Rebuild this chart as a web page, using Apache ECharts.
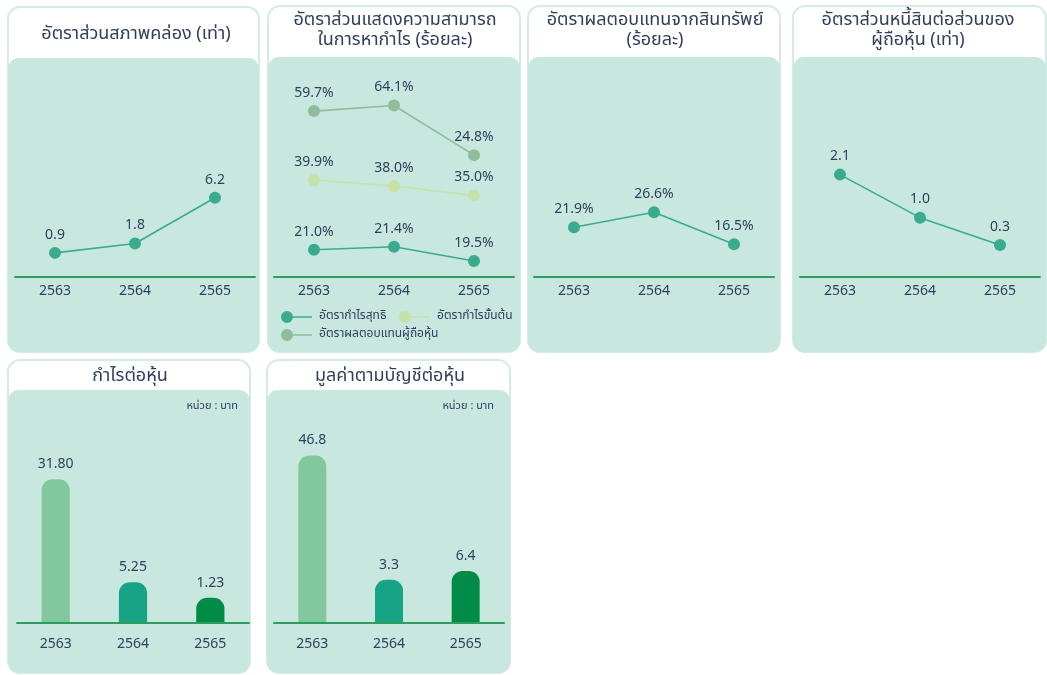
<!DOCTYPE html>
<html>
<head>
<meta charset="utf-8">
<title>อัตราส่วนทางการเงิน</title>
<script src="https://cdn.jsdelivr.net/npm/echarts@6/dist/echarts.min.js"></script>
<style>
html, body { margin: 0; padding: 0; background: #fff; }
#main { width: 1047px; height: 675px; }
</style>
</head>
<body>
<div id="main"></div>
<script>
var years = ['2563', '2564', '2565'];
// อัตราส่วนสภาพคล่อง (เท่า)
var currentRatio = [0.9, 1.8, 6.2];
// อัตราส่วนแสดงความสามารถในการหากำไร (ร้อยละ)
var netProfitMargin = [21.0, 21.4, 19.5];
var grossProfitMargin = [39.9, 38.0, 35.0];
var returnOnEquity = [59.7, 64.1, 24.8];
// อัตราผลตอบแทนจากสินทรัพย์ (ร้อยละ)
var returnOnAssets = [21.9, 26.6, 16.5];
// อัตราส่วนหนี้สินต่อส่วนของผู้ถือหุ้น (เท่า)
var debtToEquity = [2.1, 1.0, 0.3];
// กำไรต่อหุ้น (บาท)
var eps = [31.80, 5.25, 1.23];
// มูลค่าตามบัญชีต่อหุ้น (บาท)
var bookValue = [46.8, 3.3, 6.4];

var FONT = "'Noto Sans Thai', 'Noto Sans', 'DejaVu Sans', sans-serif";
var TEXT = '#2f3e5e';
var MINT = '#c8e7df';
var BORDER = '#d3ece5';
var AXIS = '#2e9c5e';
var TEAL = '#3aab8f';
var barColors = ['#81c99c', '#17a386', '#008c46'];
var legendIcon = 'path://M6,0A6,6,0,1,1,6,12A6,6,0,1,1,6,0Z M11,5.3H31V6.7H11Z';

var myChart = echarts.init(document.getElementById('main'));

// การ์ดพื้นหลัง
function card(x, y, w, h, mintTop) {
	return [{
		type: 'rect', z: -10,
		shape: { x: x, y: y, width: w, height: h, r: 12 },
		style: { fill: '#fff', stroke: BORDER, lineWidth: 2 }
	}, {
		type: 'rect', z: -9,
		shape: { x: x, y: mintTop, width: w, height: y + h - mintTop, r: 11 },
		style: { fill: MINT }
	}];
}
var cards = [].concat(
	card(8, 7, 251, 345, 58),
	card(268, 6, 252, 346, 57),
	card(528, 6, 252, 346, 57),
	card(793, 6, 253, 346, 57),
	card(8, 360, 242, 313, 390),
	card(267, 360, 243, 313, 390)
);

function titleItem(text, cx, top) {
	return {
		text: text, left: cx, top: top, textAlign: 'center', padding: 0,
		textStyle: { color: TEXT, fontSize: 18, fontWeight: 'normal', fontFamily: FONT, lineHeight: 20 }
	};
}
function unitItem(right) {
	return {
		text: 'หน่วย : บาท', right: right, top: 401, padding: 0,
		textStyle: { color: TEXT, fontSize: 11, fontWeight: 'normal', fontFamily: FONT }
	};
}

function xAxisItem(gridIndex, margin) {
	return {
		type: 'category', gridIndex: gridIndex, data: years, z: 3,
		axisLine: { onZero: false, lineStyle: { color: AXIS, width: 2 } },
		axisTick: { show: false },
		axisLabel: { color: TEXT, fontSize: 14, fontFamily: FONT, margin: margin },
		splitLine: { show: false }
	};
}
function yAxisItem(gridIndex, min, max) {
	return { type: 'value', gridIndex: gridIndex, min: min, max: max, show: false };
}

function lineSeries(name, data, xIdx, yIdx, color, digits, suffix) {
	return {
		name: name, type: 'line', xAxisIndex: xIdx, yAxisIndex: yIdx, data: data,
		symbol: 'circle', symbolSize: 12, z: 5,
		lineStyle: { color: color, width: 1.6 },
		itemStyle: { color: color },
		label: {
			show: true, position: 'top', distance: 4, color: TEXT, fontSize: 14, fontFamily: FONT,
			formatter: function (p) { return p.value.toFixed(digits) + suffix; }
		},
		emphasis: { disabled: true }
	};
}

// แท่งมุมมน เริ่มจากเส้นฐานของกราฟ
function barSeries(name, values, idx, digits) {
	return {
		name: name, type: 'custom', xAxisIndex: idx, yAxisIndex: idx + 2, z: 2,
		data: years.map(function (y, i) { return [i, values[i]]; }),
		renderItem: function (params, api) {
			var top = api.coord([api.value(0), api.value(1)]);
			var bottom = params.coordSys.y + params.coordSys.height;
			var w = api.size([1, 0])[0] * 0.365;
			return {
				type: 'rect',
				shape: { x: top[0] - w / 2, y: top[1], width: w, height: bottom - top[1], r: [11, 11, 0, 0] },
				style: { fill: barColors[params.dataIndex] },
				textContent: {
					style: { text: api.value(1).toFixed(digits), fill: TEXT, fontSize: 14, fontFamily: FONT }
				},
				textConfig: { position: 'top', distance: 7 }
			};
		}
	};
}

var option = {
	animation: false,
	backgroundColor: '#fff',
	graphic: { elements: cards },
	title: [
		titleItem('อัตราส่วนสภาพคล่อง (เท่า)', 136, 25),
		titleItem('อัตราส่วนแสดงความสามารถ\nในการหากำไร (ร้อยละ)', 395, 11),
		titleItem('อัตราผลตอบแทนจากสินทรัพย์\n(ร้อยละ)', 655, 11),
		titleItem('อัตราส่วนหนี้สินต่อส่วนของ\nผู้ถือหุ้น (เท่า)', 918, 11),
		titleItem('กำไรต่อหุ้น', 130, 367),
		titleItem('มูลค่าตามบัญชีต่อหุ้น', 390, 367),
		unitItem(809),
		unitItem(553)
	],
	legend: [
		{ data: ['อัตรากำไรสุทธิ'], left: 281, top: 311 },
		{ data: ['อัตรากำไรขั้นต้น'], left: 399, top: 311 },
		{ data: ['อัตราผลตอบแทนผู้ถือหุ้น'], left: 281, top: 329 }
	].map(function (l) {
		l.icon = legendIcon;
		l.itemWidth = 31;
		l.itemHeight = 12;
		l.itemGap = 0;
		l.padding = 0;
		l.selectedMode = false;
		l.textStyle = { color: TEXT, fontSize: 12, fontFamily: FONT, padding: [0, 0, 0, 2] };
		return l;
	}),
	grid: [
		{ left: 15, width: 240, top: 60, bottom: 398 },
		{ left: 274, width: 240, top: 60, bottom: 398 },
		{ left: 534, width: 240, top: 60, bottom: 398 },
		{ left: 800, width: 240, top: 60, bottom: 398 },
		{ left: 17, width: 232, top: 400, bottom: 52 },
		{ left: 274, width: 230, top: 400, bottom: 52 }
	],
	xAxis: [
		xAxisItem(0, 8), xAxisItem(1, 8), xAxisItem(2, 8), xAxisItem(3, 8),
		xAxisItem(4, 15), xAxisItem(5, 15)
	],
	yAxis: [
		yAxisItem(0, -1.42, 19.45),
		yAxisItem(1, 17.34, 46.5),
		yAxisItem(1, 9.48, 77.5),
		yAxisItem(1, -71.8, 100.2),
		yAxisItem(2, 6.13, 74.8),
		yAxisItem(3, -0.517, 5.03),
		yAxisItem(4, -5.26, 52.2),
		yAxisItem(5, -11.83, 66.2)
	],
	series: [
		lineSeries('อัตราส่วนสภาพคล่อง', currentRatio, 0, 0, TEAL, 1, ''),
		lineSeries('อัตรากำไรสุทธิ', netProfitMargin, 1, 1, TEAL, 1, '%'),
		lineSeries('อัตรากำไรขั้นต้น', grossProfitMargin, 1, 2, '#c6e2a9', 1, '%'),
		lineSeries('อัตราผลตอบแทนผู้ถือหุ้น', returnOnEquity, 1, 3, '#8fbd99', 1, '%'),
		lineSeries('อัตราผลตอบแทนจากสินทรัพย์', returnOnAssets, 2, 4, TEAL, 1, '%'),
		lineSeries('อัตราส่วนหนี้สินต่อส่วนของผู้ถือหุ้น', debtToEquity, 3, 5, TEAL, 1, ''),
		barSeries('กำไรต่อหุ้น', eps, 4, 2),
		barSeries('มูลค่าตามบัญชีต่อหุ้น', bookValue, 5, 1)
	]
};
myChart.setOption(option);
</script>
</body>
</html>
